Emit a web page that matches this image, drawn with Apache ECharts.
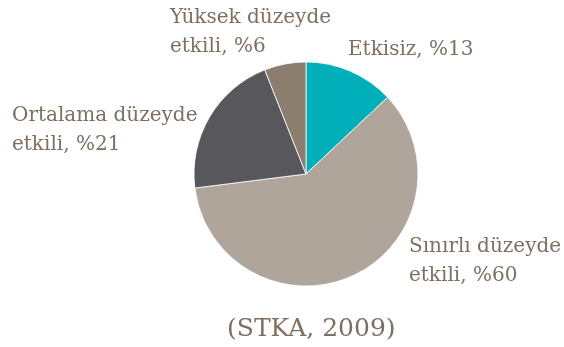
<!DOCTYPE html>
<html>
<head>
<meta charset="utf-8">
<script src="https://cdn.jsdelivr.net/npm/echarts@6/dist/echarts.min.js"></script>
<style>
  html, body { margin: 0; padding: 0; background: #ffffff; }
  #chart { width: 564px; height: 347px; }
</style>
</head>
<body>
<div id="chart"></div>
<script>
// Etki düzeyleri (yüzde)
const categories = ['Etkisiz', 'Sınırlı düzeyde etkili', 'Ortalama düzeyde etkili', 'Yüksek düzeyde etkili'];
const labelLines = [['Etkisiz'], ['Sınırlı düzeyde', 'etkili'], ['Ortalama düzeyde', 'etkili'], ['Yüksek düzeyde', 'etkili']];
const values = [13, 60, 21, 6];
const colors = ['#00afb9', '#b0a59b', '#58575c', '#8c7e6f'];
const sourceNote = '(STKA, 2009)';

// top-left anchor of each slice label
const labelAnchors = [[348, 35], [409, 232], [12, 101], [170, 3]];

const textColor = '#7e6f61';
const serif = '"DejaVu Serif", serif';

const chart = echarts.init(document.getElementById('chart'), null, { renderer: 'canvas' });
chart.setOption({
  animation: false,
  backgroundColor: '#ffffff',
  title: {
    text: sourceNote,
    left: 222,
    top: 312,
    textStyle: { fontFamily: serif, fontWeight: 'normal', fontSize: 25, color: textColor }
  },
  series: [{
    type: 'pie',
    center: [306, 174],
    radius: [0, 112],
    startAngle: 90,
    clockwise: true,
    itemStyle: { borderColor: '#ffffff', borderWidth: 0.8 },
    data: categories.map((c, i) => ({ name: c, value: values[i], itemStyle: { color: colors[i] } })),
    label: {
      show: true,
      position: 'outside',
      fontFamily: serif,
      fontSize: 20,
      lineHeight: 29,
      color: textColor,
      align: 'left',
      overflow: 'none',
      formatter: p => {
        const l = labelLines[p.dataIndex].slice();
        l[l.length - 1] += ', %' + p.value;
        return l.join('\n');
      }
    },
    labelLine: { show: false },
    labelLayout: p => ({
      x: labelAnchors[p.dataIndex][0],
      y: labelAnchors[p.dataIndex][1],
      align: 'left',
      verticalAlign: 'top',
      width: 200
    })
  }]
});
</script>
</body>
</html>
